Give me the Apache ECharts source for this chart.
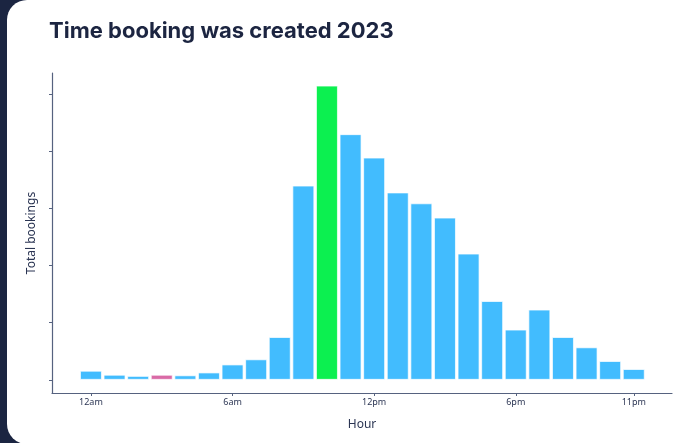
<!DOCTYPE html>
<html>
<head>
<meta charset="utf-8">
<script src="https://cdn.jsdelivr.net/npm/echarts@6/dist/echarts.min.js"></script>
<style>
  html, body { margin: 0; padding: 0; width: 693px; height: 443px; overflow: hidden; background: #1b2541; }
  #card { position: absolute; left: 7px; top: 0; width: 710px; height: 444px; background: #ffffff; border-radius: 20px; }
  #chart { position: absolute; left: 0; top: 0; width: 693px; height: 443px; }
</style>
</head>
<body>
<div id="card"></div>
<div id="chart"></div>
<script>
// Hour of day (0 = midnight) and number of bookings created in that hour
const hours = [0, 1, 2, 3, 4, 5, 6, 7, 8, 9, 10, 11, 12, 13, 14, 15, 16, 17, 18, 19, 20, 21, 22, 23];
const bookings = [16, 9, 7, 9, 8, 13, 27, 36, 75, 340, 515, 430, 389, 328, 309, 284, 221, 138, 88, 123, 75, 57, 33, 19];

// Hours that get an axis label, and their text
const tickHours = [0, 6, 12, 18, 23];
const tickLabels = ['12am', '6am', '12pm', '6pm', '11pm'];
const yTicks = [0, 100, 200, 300, 400, 500];

// Busiest and quietest hours are picked out in their own colours
const peakHour = 10;
const quietHour = 3;

const BLUE = '#42bcfe';
const GREEN = '#0cf050';
const PINK = '#d96aa6';
const INK = '#1c2541';
const AXIS = '#56627f';

const barData = hours.map((h, i) => ({
  value: [h, bookings[i]],
  itemStyle: { color: h === peakHour ? GREEN : (h === quietHour ? PINK : BLUE) }
}));

const chart = echarts.init(document.getElementById('chart'), null, { renderer: 'canvas' });
chart.setOption({
  backgroundColor: 'transparent',
  animation: false,
  title: {
    text: 'Time booking was created 2023',
    left: 44,
    top: 15,
    textStyle: { fontFamily: 'Inter', fontWeight: 'bold', fontSize: 22, color: INK }
  },
  grid: { left: 52, right: 21, top: 73, bottom: 50 },
  xAxis: {
    type: 'value',
    min: -1.65,
    max: 24.62,
    name: 'Hour',
    nameLocation: 'middle',
    nameGap: 26,
    nameTextStyle: { fontFamily: 'Noto Sans', fontSize: 12, color: '#2b3553' },
    axisLine: { show: true, onZero: false, lineStyle: { color: AXIS, width: 1.2 } },
    axisTick: { show: true, length: 3, customValues: tickHours, lineStyle: { color: AXIS } },
    axisLabel: {
      show: true,
      customValues: tickHours,
      margin: 5,
      fontFamily: 'Noto Sans',
      fontSize: 9,
      color: '#2b3553',
      formatter: v => tickLabels[tickHours.indexOf(Math.round(v))] || ''
    },
    splitLine: { show: false }
  },
  yAxis: {
    type: 'value',
    min: -23,
    max: 537,
    name: 'Total bookings',
    nameLocation: 'middle',
    nameGap: 14,
    nameRotate: 90,
    nameTextStyle: { fontFamily: 'Noto Sans', fontSize: 12, color: '#2b3553' },
    axisLine: { show: true, onZero: false, lineStyle: { color: AXIS, width: 1.2 } },
    axisTick: { show: true, length: 3, customValues: yTicks, lineStyle: { color: AXIS } },
    axisLabel: { show: false },
    splitLine: { show: false }
  },
  series: [{
    type: 'bar',
    data: barData,
    barWidth: 22,
    itemStyle: { borderColor: 'rgba(255,255,255,0.7)', borderWidth: 1 }
  }]
});
</script>
</body>
</html>
